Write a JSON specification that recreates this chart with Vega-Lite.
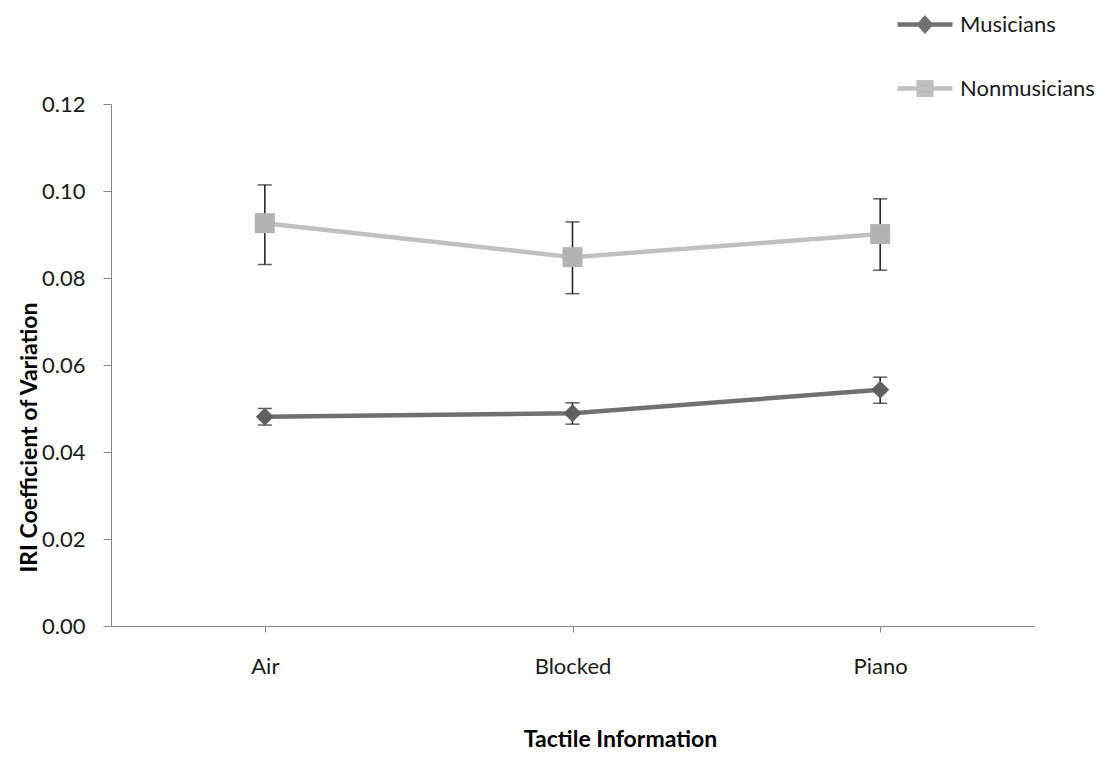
{
  "$schema": "https://vega.github.io/schema/vega-lite/v6.json",
  "width": 923,
  "height": 522,
  "autosize": "none",
  "padding": {"left": 111, "top": 104, "right": 79, "bottom": 133},
  "background": "white",
  "config": {
    "view": {"stroke": null},
    "font": "Lato",
    "axis": {"grid": false, "domainColor": "#868686", "tickColor": "#868686", "labelColor": "#1a1a1a", "labelFont": "Lato", "labelFontSize": 22, "titleFont": "Lato", "titleFontSize": 23, "titleFontWeight": "bold", "titleColor": "#000000"}
  },
  "data": {"values": [
    {"Condition": "Air", "Group": "Musicians", "mean": 0.0481, "lower": 0.0462, "upper": 0.0500},
    {"Condition": "Blocked", "Group": "Musicians", "mean": 0.0489, "lower": 0.0464, "upper": 0.0513},
    {"Condition": "Piano", "Group": "Musicians", "mean": 0.0543, "lower": 0.0512, "upper": 0.0572},
    {"Condition": "Air", "Group": "Nonmusicians", "mean": 0.0926, "lower": 0.0831, "upper": 0.1014},
    {"Condition": "Blocked", "Group": "Nonmusicians", "mean": 0.0848, "lower": 0.0764, "upper": 0.0929},
    {"Condition": "Piano", "Group": "Nonmusicians", "mean": 0.0901, "lower": 0.0818, "upper": 0.0982}
  ]},
  "layer": [
    {
      "mark": {"type": "rule", "color": "#1a1a1a", "strokeWidth": 1.5},
      "encoding": {
        "x": {"field": "Condition", "type": "nominal", "sort": ["Air", "Blocked", "Piano"], "scale": {"type": "point", "padding": 0.5}, "axis": {"labelAngle": 0, "tickSize": 6, "labelPadding": 24, "title": "Tactile Information", "titleX": 509, "titleY": 113, "titleBaseline": "middle", "titleAlign": "center"}},
        "y": {"field": "lower", "type": "quantitative", "scale": {"domain": [0, 0.12]}, "axis": {"values": [0, 0.02, 0.04, 0.06, 0.08, 0.1, 0.12], "format": ".2f", "tickSize": 8, "labelPadding": 18, "title": "IRI Coefficient of Variation", "titleAngle": -90, "titleX": -75, "titleY": 333, "titleBaseline": "alphabetic", "titleAlign": "center"}},
        "y2": {"field": "upper"}
      }
    },
    {
      "mark": {"type": "tick", "orient": "horizontal", "color": "#1a1a1a", "thickness": 1.5, "size": 14},
      "encoding": {
        "x": {"field": "Condition", "type": "nominal", "sort": ["Air", "Blocked", "Piano"]},
        "y": {"field": "lower", "type": "quantitative"}
      }
    },
    {
      "mark": {"type": "tick", "orient": "horizontal", "color": "#1a1a1a", "thickness": 1.5, "size": 14},
      "encoding": {
        "x": {"field": "Condition", "type": "nominal", "sort": ["Air", "Blocked", "Piano"]},
        "y": {"field": "upper", "type": "quantitative"}
      }
    },
    {
      "mark": {"type": "line", "strokeWidth": 4.5},
      "encoding": {
        "x": {"field": "Condition", "type": "nominal", "sort": ["Air", "Blocked", "Piano"]},
        "y": {"field": "mean", "type": "quantitative"},
        "color": {"field": "Group", "type": "nominal", "scale": {"domain": ["Musicians", "Nonmusicians"], "range": ["#707070", "#c0c0c0"]},
          "legend": {"orient": "none", "legendX": 784, "legendY": -109.5, "title": null, "symbolSize": 3025, "symbolStrokeWidth": 4.5, "labelFont": "Lato", "labelFontSize": 22, "labelColor": "#1a1a1a", "labelOffset": 5, "rowPadding": 18,
            "encode": {"symbols": {"update": {
              "shape": {"signal": "datum.value === 'Musicians' ? 'M-1,0L1,0M0,-0.22L0.2,0L0,0.22L-0.2,0Z' : 'M-1,0L1,0M-0.23,-0.23L0.23,-0.23L0.23,0.23L-0.23,0.23Z'"},
              "fill": {"signal": "datum.value === 'Musicians' ? '#606060' : '#b3b3b3'"},
              "fillOpacity": {"value": 1}
            }}}}
        }
      }
    },
    {
      "transform": [{"filter": "datum.Group === 'Musicians'"}],
      "mark": {"type": "point", "shape": "diamond", "filled": true, "opacity": 1, "color": "#606060", "size": 324},
      "encoding": {
        "x": {"field": "Condition", "type": "nominal", "sort": ["Air", "Blocked", "Piano"]},
        "y": {"field": "mean", "type": "quantitative"}
      }
    },
    {
      "transform": [{"filter": "datum.Group === 'Nonmusicians'"}],
      "mark": {"type": "point", "shape": "square", "filled": true, "opacity": 1, "color": "#b3b3b3", "size": 400},
      "encoding": {
        "x": {"field": "Condition", "type": "nominal", "sort": ["Air", "Blocked", "Piano"]},
        "y": {"field": "mean", "type": "quantitative"}
      }
    }
  ]
}
